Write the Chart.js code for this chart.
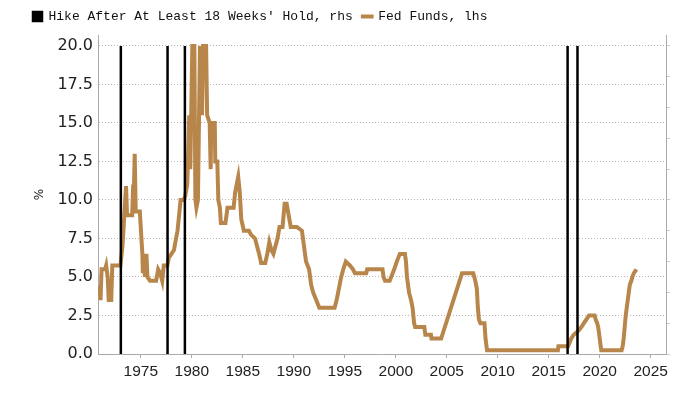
<!DOCTYPE html>
<html>
<head>
<meta charset="utf-8">
<script src="https://cdn.jsdelivr.net/npm/chart.js@4.4.1/dist/chart.umd.min.js"></script>
<style>
html,body{margin:0;padding:0;background:#fff;}
canvas{display:block;}
</style>
</head>
<body>
<canvas id="c" width="700" height="394"></canvas>
<script>
// Fed funds (decimal year, % level)
const years = [
1970.95,1971.05,1971.15,1971.5,1971.6,1971.75,1971.85,1972.1,1972.2,1973.0,
1973.2,1973.55,1973.65,1974.15,1974.25,1974.3,1974.4,1974.5,1974.9,
1975.15,1975.2,1975.3,1975.4,1975.55,1975.65,1975.9,1976.5,1976.7,1976.9,1977.1,1977.25,1977.6,
1977.75,1978.0,1978.25,1978.45,1978.6,1978.75,1978.9,1979.2,1979.35,1979.55,1979.75,1979.85,
1980.05,1980.25,1980.35,1980.45,1980.6,1980.8,1981.0,1981.1,1981.4,1981.5,1981.75,1981.85,1981.9,
1982.25,1982.3,1982.5,1982.6,1982.75,1982.85,1983.3,1983.5,1984.1,1984.25,1984.55,1984.7,1984.85,
1985.1,1985.6,1985.8,1986.2,1986.4,1986.6,1986.8,1987.2,1987.4,1987.6,1987.8,1988.0,1988.4,1988.6,
1988.9,1989.1,1989.3,1989.7,1990.3,1990.8,1991.2,1991.5,1991.7,1991.9,1992.2,1992.5,1994.0,1994.2,
1994.35,1994.5,1994.65,1994.85,1995.1,1995.5,1995.8,1996.0,1997.1,1997.2,1998.7,1998.8,1998.95,
1999.4,1999.55,1999.7,1999.85,2000.1,2000.4,2000.9,2001.0,2001.1,2001.3,2001.5,2001.65,2001.8,2001.9,
2002.8,2002.9,2003.45,2003.5,2004.45,2006.5,2007.6,2007.8,2007.95,2008.05,2008.15,2008.3,2008.7,
2008.8,2008.95,2015.9,2015.95,2016.9,2017.05,2017.2,2017.45,2017.9,2018.2,2018.45,2018.7,2018.95,
2019.5,2019.6,2019.75,2019.85,2020.15,2022.15,2022.25,2022.35,2022.45,2022.55,2022.7,2022.85,2022.95,
2023.1,2023.2,2023.35,2023.6
];
const fedFunds = [
4.4,3.5,5.5,5.5,5.75,5.0,3.5,3.5,5.75,5.75,
7.0,10.9,9.0,9.0,11.0,10.0,13.0,9.25,9.25,
6.5,5.25,6.5,5.0,6.5,5.0,4.75,4.75,5.5,5.25,4.75,5.75,5.75,
6.25,6.5,6.75,7.5,8.0,9.0,10.0,10.0,10.25,11.0,15.5,12.0,
20.0,20.0,10.0,9.5,10.0,20.0,15.5,20.0,20.0,15.5,15.0,12.0,15.0,
15.0,12.5,12.5,10.0,9.5,8.5,8.5,9.5,9.5,10.5,11.5,10.5,8.75,
8.0,8.0,7.75,7.5,7.0,6.5,5.9,5.9,6.5,7.25,6.75,6.5,7.5,8.25,
8.25,9.75,9.75,8.25,8.25,8.0,6.0,5.5,4.5,4.0,3.5,3.0,3.0,3.5,
4.0,4.5,5.0,5.5,6.0,5.75,5.5,5.25,5.25,5.5,5.5,5.0,4.75,
4.75,5.0,5.25,5.5,6.0,6.5,6.5,6.0,5.0,4.0,3.5,3.0,2.0,1.75,
1.75,1.25,1.25,1.0,1.0,5.25,5.25,4.75,4.25,3.0,2.25,2.0,2.0,
1.0,0.25,0.25,0.5,0.5,0.75,1.0,1.25,1.5,1.75,2.0,2.25,2.5,
2.5,2.25,2.0,1.75,0.25,0.25,0.5,1.0,1.75,2.5,3.25,4.0,4.5,
4.75,5.0,5.25,5.5
];
// Hikes after at least 18 weeks' hold (decimal year)
const hikeDates = [1973.04, 1977.62, 1979.32, 2016.85, 2017.82];
const yTicks = [0, 2.5, 5, 7.5, 10, 12.5, 15, 17.5, 20];
const xTicks = [1975, 1980, 1985, 1990, 1995, 2000, 2005, 2010, 2015, 2020, 2025];
const rhsTicks = [0, 0.1, 0.2, 0.3, 0.4, 0.5, 0.6, 0.7, 0.8, 0.9, 1.0];

const fedData = years.map((x, i) => ({x: x, y: fedFunds[i]}));
const hikeData = [];
hikeDates.forEach(t => { hikeData.push({x: t, y: 0}, {x: t, y: 1}, {x: t, y: null}); });

const legendHeight = {
  id: 'legendHeight',
  beforeInit(chart) {
    const orig = chart.legend.fit;
    chart.legend.fit = function () { orig.call(this); this.height = 35; };
  }
};

new Chart(document.getElementById('c'), {
  type: 'line',
  data: {
    datasets: [
      {
        label: "Hike After At Least 18 Weeks' Hold, rhs",
        data: hikeData,
        yAxisID: 'y2',
        borderColor: '#000000',
        backgroundColor: '#000000',
        borderWidth: 2.5,
        pointRadius: 0,
        pointStyle: 'rect',
        spanGaps: false
      },
      {
        label: 'Fed Funds, lhs',
        data: fedData,
        yAxisID: 'y',
        borderColor: '#b8864b',
        backgroundColor: '#b8864b',
        borderWidth: 4,
        pointRadius: 0,
        pointStyle: 'line',
        tension: 0,
        borderJoinStyle: 'miter'
      }
    ]
  },
  options: {
    responsive: false,
    animation: false,
    devicePixelRatio: 1,
    layout: {padding: {left: 23, right: 0, top: 0, bottom: 0}},
    plugins: {
      legend: {
        display: true,
        position: 'top',
        align: 'start',
        labels: {
          usePointStyle: true,
          boxWidth: 9,
          boxHeight: 9,
          padding: 10,
          color: '#111',
          font: {family: 'Liberation Mono', size: 13}
        }
      },
      tooltip: {enabled: false}
    },
    scales: {
      x: {
        type: 'linear',
        min: 1970.8,
        max: 2026.5,
        afterBuildTicks: s => { s.ticks = xTicks.map(v => ({value: v})); },
        afterFit: s => { s.height = 40; },
        grid: {drawOnChartArea: false, drawTicks: true, tickLength: 4, color: '#aaaaaa'},
        border: {color: '#aaaaaa', width: 1},
        ticks: {
          color: '#222',
          padding: 4,
          maxRotation: 0,
          font: {family: 'Liberation Sans', size: 15.5},
          callback: v => String(v)
        }
      },
      y: {
        type: 'linear',
        position: 'left',
        min: 0,
        max: 20.71,
        afterBuildTicks: s => { s.ticks = yTicks.map(v => ({value: v})); },
        afterFit: s => { s.width = 75; },
        grid: {color: '#b4b4b4', lineWidth: 1, drawTicks: false},
        border: {color: '#aaaaaa', width: 1, dash: [1, 2]},
        title: {
          display: true,
          text: '%',
          color: '#222',
          font: {family: 'DejaVu Sans', size: 12},
          padding: {top: 10, bottom: 0}
        },
        ticks: {
          color: '#222',
          padding: 5,
          font: {family: 'DejaVu Sans', size: 16},
          callback: v => Number(v).toFixed(1)
        }
      },
      y2: {
        type: 'linear',
        position: 'right',
        min: 0,
        max: 20.71 / 20,
        afterBuildTicks: s => { s.ticks = rhsTicks.map(v => ({value: v})); },
        afterFit: s => { s.width = 34; },
        grid: {drawOnChartArea: false, drawTicks: true, tickLength: 4, color: '#cccccc'},
        border: {color: '#aaaaaa', width: 1},
        ticks: {callback: () => '', padding: 0}
      }
    }
  },
  plugins: [legendHeight]
});
</script>
</body>
</html>
